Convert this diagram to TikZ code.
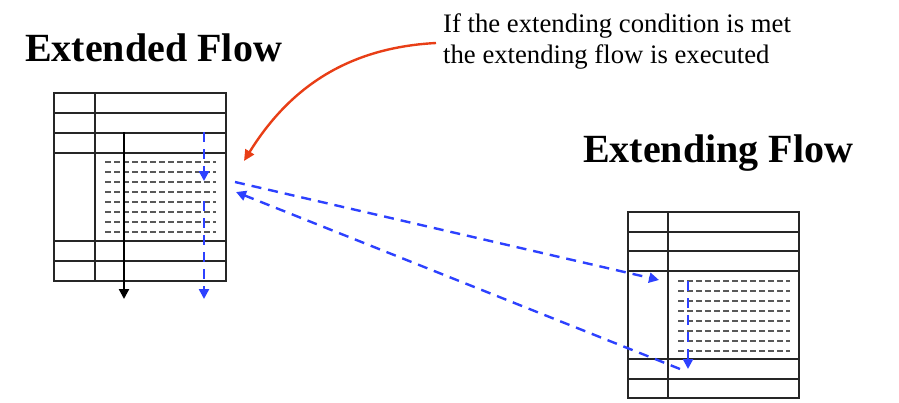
\documentclass[tikz,border=0pt]{standalone}
\usepackage{fontspec}
\setmainfont{Liberation Serif}
\newfontfamily\notefont{Liberation Serif}
\newfontfamily\titlefont{Liberation Serif}[BoldFont={Liberation Serif Bold}]
\usetikzlibrary{arrows.meta}
\definecolor{flowblue}{RGB}{45,65,255}
\definecolor{notered}{RGB}{232,62,22}
\begin{document}
\begin{tikzpicture}[x=1pt,y=-1pt,
  grid/.style={line width=1.8pt, draw=black!85},
  dots/.style={line width=1.6pt, draw=black!65, dash pattern=on 5.5pt off 3.5pt},
  flow/.style={line width=2.4pt, draw=flowblue, dash pattern=on 10pt off 7pt,
     -{Triangle[length=10pt,width=10pt,fill=flowblue]}},
  mainflow/.style={line width=2.2pt, draw=black, -{Triangle[length=10pt,width=10pt]}},
  note/.style={line width=2.4pt, draw=notered, -{Triangle[length=11pt,width=10pt,fill=notered]}},
  title/.style={inner sep=0pt, anchor=base west, font=\fontsize{40}{48}\selectfont\titlefont\bfseries},
  notetext/.style={inner sep=0pt, anchor=base west, font=\fontsize{26.7}{30}\selectfont\notefont},
]
\useasboundingbox (0,0) rectangle (899,402);

% titles and annotation
\node[title] (t1) at (25,61) {Extended Flow};
\node[title] (t2) at (583,162) {Extending Flow};
\node[notetext] (n1) at (443,32) {If the extending condition is met};
\node[notetext] (n2) at (443,63) {the extending flow is executed};

% left table (extended flow)
\draw[grid] (54,93) rectangle (226,281);
\foreach \yy in {113,133,153,241,261} \draw[grid] (54,\yy) -- (226,\yy);
\draw[grid] (95,93) -- (95,281);
\foreach \k in {0,...,7} \draw[dots] (105,162+10*\k) -- (216,162+10*\k);

% right table (extending flow)
\draw[grid] (628,212) rectangle (799,398);
\foreach \yy in {232,251,271,359,379} \draw[grid] (628,\yy) -- (799,\yy);
\draw[grid] (668,212) -- (668,398);
\foreach \k in {0,...,7} \draw[dots] (678,281+10*\k) -- (790,281+10*\k);

% coordinates
\coordinate (ms) at (124,132);
\coordinate (me) at (124,299);
\coordinate (as) at (204,132);
\coordinate (ae) at (204,181);
\coordinate (bs) at (204,201);
\coordinate (be) at (204,299);
\coordinate (xs) at (235,182);
\coordinate (xe) at (659,280);
\coordinate (rs) at (688,281);
\coordinate (re) at (688,369);
\coordinate (ys) at (680,369);
\coordinate (ye) at (236,192);
\coordinate (ns) at (436,43);
\coordinate (ne) at (244,161);

% flows
\draw[mainflow] (ms) -- (me);
\draw[flow] (as) -- (ae);
\draw[flow] (bs) -- (be);
\draw[flow] (xs) -- (xe);
\draw[flow] (rs) -- (re);
\draw[flow] (ys) -- (ye);

% annotation arrow
\draw[note] (ns) .. controls (340,48) and (285,95) .. (ne);
\end{tikzpicture}
\end{document}
